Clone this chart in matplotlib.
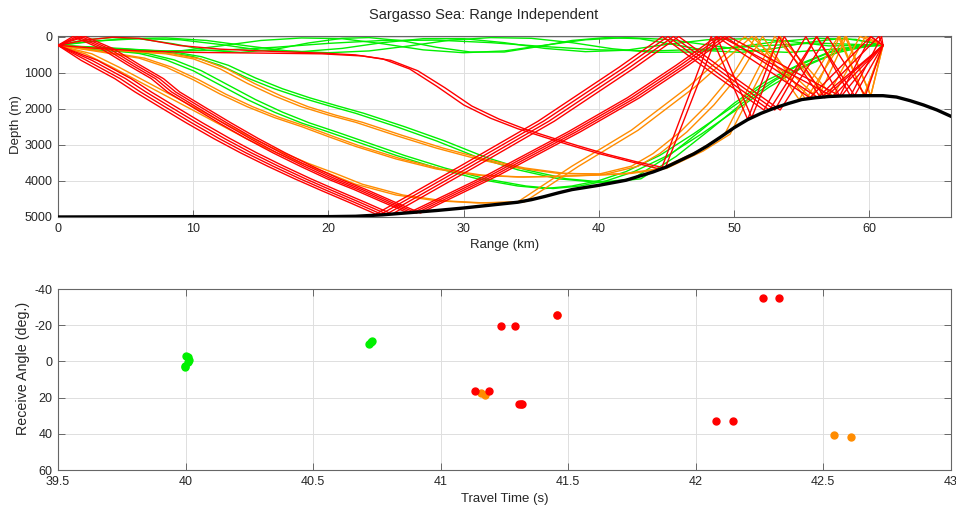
import matplotlib.pyplot as plt

plt.rcParams['font.family'] = ['Liberation Sans', 'DejaVu Sans']
plt.rcParams['axes.unicode_minus'] = False

# bathymetry: range (km), depth (m)
bathy_r = [0, 5, 10, 15, 20, 22, 24, 26, 28, 30, 32, 34, 35, 36, 37, 38, 39, 40, 42, 44,
           45, 46, 47, 48, 49, 50, 51, 52, 53, 54, 55, 56, 57, 58, 59, 60, 61, 62, 63, 64, 65, 66]
bathy_z = [5010, 5005, 5000, 5000, 5000, 4990, 4950, 4890, 4830, 4760, 4680, 4600, 4530, 4440,
           4340, 4250, 4190, 4130, 3990, 3760, 3620, 3440, 3260, 3040, 2790, 2530, 2306, 2130,
           1983, 1860, 1750, 1700, 1665, 1650, 1645, 1642, 1642, 1680, 1780, 1900, 2040, 2210]

# eigenrays, (range km, depth m) waypoints
# surface-duct rays
duct_1 = [(0, 245), (2, 90), (4, 30), (6, 60), (8.5, 200), (11, 380), (13.5, 440), (16, 360),
          (18.5, 180), (21, 50), (23, 30), (25.5, 120), (28, 300), (30.5, 430), (33, 430),
          (35.5, 280), (38, 110), (40.5, 30), (43, 60), (45.5, 220), (48, 390), (50.5, 440),
          (53, 330), (55.5, 160), (58, 50), (60, 150), (61, 245)]
duct_2 = [(0, 245), (3, 120), (6, 60), (9, 90), (12, 220), (15, 380), (18, 420), (21, 330),
          (24, 170), (27, 60), (30, 60), (33, 170), (36, 330), (39, 420), (42, 380), (45, 220),
          (48, 90), (51, 60), (54, 130), (57, 260), (59, 250), (61, 245)]
duct_3 = [(0, 245), (3, 380), (6, 440), (9, 400), (12, 260), (15, 110), (18, 40), (21, 60),
          (24, 200), (27, 370), (30, 450), (33, 400), (36, 240), (39, 90), (42, 30), (45, 80),
          (48, 230), (51, 390), (54, 440), (57, 360), (59, 290), (61, 245)]
duct_4 = [(0, 245), (4, 340), (8, 400), (12, 380), (16, 300), (20, 190), (24, 110), (28, 100),
          (32, 170), (36, 280), (40, 370), (44, 400), (48, 350), (52, 260), (56, 180), (61, 245)]
duct_5 = [(0, 245), (2, 150), (5, 60), (8, 40), (11, 110), (14, 260), (17, 400), (20, 450),
          (23, 400), (26, 260), (29, 100), (32, 30), (35, 50), (38, 170), (41, 340), (44, 440),
          (47, 430), (50, 300), (53, 150), (56, 50), (59, 80), (61, 245)]

# deep refracted rays
deep_late = [(0, 245), (4, 330), (8, 430), (10, 560), (12, 800), (14, 1150), (16, 1450),
             (18, 1700), (20, 1920), (22, 2130), (25, 2500), (28, 2900), (31, 3350), (34, 3700),
             (37, 3950), (40, 4050), (42.5, 3950), (45.1, 3330), (47.6, 2590), (50, 1850),
             (52.5, 1200), (55, 740), (57.4, 375), (59.9, 235), (61, 245)]
deep_early = [(0, 245), (3, 350), (6, 470), (8, 650), (10, 950), (12, 1350), (14, 1750),
              (16, 2100), (18, 2400), (20, 2650), (22, 2910), (25, 3300), (28, 3650), (31, 3950),
              (34, 4150), (36, 4220), (38, 4150), (40, 4000), (42, 3750), (44.5, 3300), (47, 2700),
              (49.5, 2050), (52, 1400), (54.5, 850), (57, 450), (59.5, 250), (61, 245)]

# single bottom-bounce rays
bounce_1 = [(0, 245), (4, 380), (8, 480), (10, 620), (12, 900), (14, 1300), (16, 1650),
            (18, 1950), (20, 2180), (22, 2380), (25, 2750), (28, 3100), (31, 3400), (34, 3650),
            (37, 3800), (40, 3820), (42.4, 3600), (44, 3250), (46, 2650), (48, 1900), (50, 1000),
            (51.6, 0), (54.8, 1750), (57.7, 0), (59.6, 1645), (61, 245)]
bounce_2 = [(0, 245), (3, 420), (6, 600), (8, 850), (10, 1200), (12, 1600), (14, 1950),
            (16, 2250), (18, 2500), (20, 2780), (22, 3050), (25, 3400), (28, 3680), (31, 3850),
            (34, 3900), (37, 3880), (40, 3840), (42, 3800), (44.6, 3660), (47.3, 3180),
            (49.3, 2710), (53, 0), (56.9, 1670), (59.3, 0), (61, 245)]
bounce_3 = [(0, 245), (2, 480), (4, 850), (6, 1250), (8, 1650), (10, 2050), (12, 2450),
            (14, 2850), (16, 3200), (18, 3520), (20, 3800), (22, 4100), (25, 4400), (28, 4560),
            (31, 4620), (34, 4590), (38, 3600), (42.4, 2600), (46.6, 1400), (50.8, 0),
            (55.7, 1710), (57.8, 0), (59.6, 1645), (61, 245)]

# multi-bounce rays
flat_a = [(0, 245), (2, 100), (4, 20), (6, 50), (9, 250), (12, 350), (15, 400), (19.5, 460),
          (22, 510), (24, 620), (26, 900), (28, 1380), (30, 1900), (32, 2270), (34, 2560),
          (36, 2800), (38, 3030), (40, 3250), (42.4, 3480), (44.6, 3690), (48.3, 0), (51, 2300),
          (53.3, 0), (56.4, 1700), (61, 245)]
flat_b = [(0, 245), (3, 330), (6, 400), (10, 440), (15, 460), (19.5, 480), (22.5, 540),
          (24.6, 660), (26.6, 950), (28.6, 1420), (30.6, 1930), (32.6, 2290), (34.6, 2580),
          (36.6, 2820), (38.6, 3050), (40.6, 3270), (42.8, 3480), (44.9, 3650), (48.7, 0),
          (51.3, 2250), (53.7, 0), (56.7, 1700), (61, 245)]

steep_down = [(0, 245), (2.2, 660), (4.7, 1170), (6.2, 1540), (8, 1950), (10, 2400), (12, 2830),
              (14, 3230), (16, 3600), (18, 3950), (20, 4280), (22, 4600), (24, 4930)]
steep_up = [(30, 3650), (36, 2350), (42, 850), (45.2, 0), (49, 1050), (52.7, 2040)]
steep_tail_a = [(55.8, 0), (58.3, 1650), (60.6, 0), (61, 245)]
steep_tail_b = [(56.2, 0), (59.0, 1645), (61, 245)]

refl_down = [(0, 245), (1.4, 0), (3.5, 340), (5.5, 800), (7.2, 1170), (8.4, 1540), (10.2, 1950),
             (12.2, 2400), (14.2, 2830), (16.2, 3230), (18.2, 3600), (20.2, 3950), (22.2, 4250),
             (24.2, 4580), (26.2, 4900)]
refl_up = [(32, 3850), (38, 2650), (42.4, 1700), (46, 800), (49, 0)]
refl_tail_a = [(55.9, 1700), (60.4, 0), (61, 245)]
refl_tail_b = [(57.3, 1665), (61, 245)]

# arrivals: travel time (s), receive angle (deg)
green_t = [40.000, 40.008, 40.012, 40.010, 39.998, 39.996, 40.719, 40.726, 40.732]
green_a = [-2.9, -2.2, -0.8, 0.4, 2.9, 2.6, -9.6, -10.7, -11.4]
orange_t = [41.160, 41.173, 41.455, 42.541, 42.610]
orange_a = [17.6, 18.6, -25.9, 40.4, 41.9]
red_t = [41.137, 41.190, 41.238, 41.291, 41.308, 41.316, 41.321, 41.457, 42.082, 42.148,
         42.266, 42.329]
red_a = [16.5, 16.4, -19.5, -19.5, 23.5, 23.5, 23.5, -25.9, 32.7, 33.1, -34.9, -34.9]

GREEN = '#00f000'
ORANGE = '#ff8c00'
RED = '#ff0000'


def bundle(path, shifts):
    # neighbouring rays of one family: ends stay on source/receiver
    out = []
    for dr in shifts:
        out.append([path[0]] + [(r + dr, z) for r, z in path[1:-1]] + [path[-1]])
    return out


green_rays = [duct_1, duct_2, duct_3, duct_4, duct_5]
green_rays += bundle(deep_late, [0, 0.6]) + bundle(deep_early, [0, 0.6])
orange_rays = bundle(bounce_1, [0, 0.5]) + bundle(bounce_2, [0, 0.4]) + bundle(bounce_3, [0, 0.5])
red_rays = [flat_a, flat_b]
red_rays += bundle(steep_down + steep_up + steep_tail_a, [-0.5, 0.3])
red_rays += bundle(steep_down + steep_up + steep_tail_b, [-0.1, 0.7])
red_rays += bundle(refl_down + refl_up + refl_tail_a, [-0.3, 0.3])
red_rays += bundle(refl_down + refl_up + refl_tail_b, [0.0, 0.6])

fig = plt.figure(figsize=(9.56, 5.09), dpi=100)
ax1 = fig.add_axes([0.0607, 0.5737, 0.9336, 0.3556])
ax2 = fig.add_axes([0.0607, 0.0766, 0.9336, 0.3556])

for rays, c in [(green_rays, GREEN), (orange_rays, ORANGE), (red_rays, RED)]:
    for ray in rays:
        ax1.plot([p[0] for p in ray], [p[1] for p in ray], color=c, lw=1.0, zorder=3)
ax1.plot(bathy_r, bathy_z, color='black', lw=2.4, zorder=5)

ax1.set_xlim(0, 66)
ax1.set_ylim(5010, -15)
ax1.set_xticks(range(0, 61, 10))
ax1.set_yticks(range(0, 5001, 1000))
ax1.set_xlabel('Range (km)', fontsize=9.5, color='#262626', labelpad=3)
ax1.set_ylabel('Depth (m)', fontsize=9.5, color='#262626')
ax1.yaxis.set_label_coords(-0.040, 0.51)

ax2.plot(green_t, green_a, 'o', color=GREEN, ms=5, zorder=3)
ax2.plot(orange_t, orange_a, 'o', color=ORANGE, ms=5, zorder=3)
ax2.plot(red_t, red_a, 'o', color=RED, ms=5, zorder=3)
ax2.set_xlim(39.5, 43)
ax2.set_ylim(60, -40)
ax2.set_xticks([39.5, 40, 40.5, 41, 41.5, 42, 42.5, 43])
ax2.set_xticklabels(['39.5', '40', '40.5', '41', '41.5', '42', '42.5', '43'])
ax2.set_yticks([-40, -20, 0, 20, 40, 60])
ax2.set_xlabel('Travel Time (s)', fontsize=9.5, color='#262626', labelpad=4)
ax2.set_ylabel('Receive Angle (deg.)', fontsize=10.3, color='#262626')
ax2.yaxis.set_label_coords(-0.031, 0.56)

for ax in (ax1, ax2):
    ax.grid(True, color='#dedede', lw=0.7)
    ax.set_axisbelow(True)
    ax.tick_params(direction='in', length=5, width=0.6, colors='#555555', labelcolor='#262626',
                   labelsize=9, top=True, right=True, pad=4)
    for s in ax.spines.values():
        s.set_color('#666666')
        s.set_linewidth(0.8)

fig.text(0.506, 0.9627, 'Sargasso Sea: Range Independent', ha='center', va='baseline',
         fontsize=10.5, color='#262626')

fig.savefig('out.png', dpi=100)
